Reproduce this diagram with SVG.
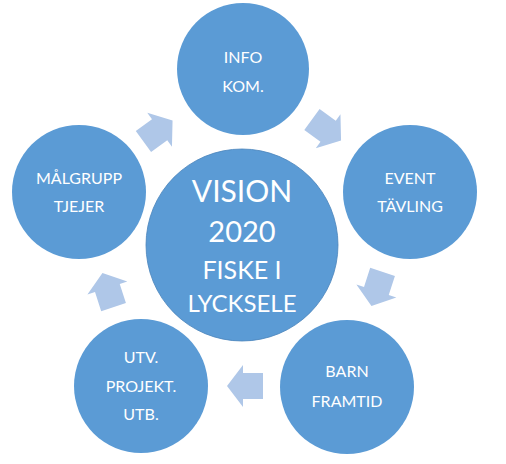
<svg xmlns="http://www.w3.org/2000/svg" width="506" height="464" viewBox="0 0 506 464">
<style>
.node{fill:#5B9BD5;}
.hub{fill:#5B9BD5;stroke:#4A84BB;stroke-width:0.8;}
.arr{fill:#AFC7E8;}
text{font-family:Lato,"Open Sans","Liberation Sans",sans-serif;fill:#FFFFFF;text-anchor:middle;}
.s{font-size:16px;}
</style>
<defs>
<polygon id="arrow" points="-18,-13 2,-13 2,-21 18,0 2,21 2,13 -18,13"/>
</defs>
<rect width="506" height="464" fill="#FFFFFF"/>
<g id="connectors">
<use href="#arrow" class="arr" transform="translate(326.5,130) rotate(36)"/>
<use href="#arrow" class="arr" transform="translate(377,289) rotate(108)"/>
<use href="#arrow" class="arr" transform="translate(245,386) rotate(180)"/>
<use href="#arrow" class="arr" transform="translate(108,290) rotate(252)"/>
<use href="#arrow" class="arr" transform="translate(158,131) rotate(324)"/>
</g>
<g id="hub">
<circle class="hub" cx="242" cy="245" r="96"/>
<text x="242" y="201.5" font-size="30">VISION</text>
<text x="242" y="241.5" font-size="29">2020</text>
<text x="242" y="278.5" font-size="25">FISKE I</text>
<text x="242" y="311.5" font-size="24">LYCKSELE</text>
</g>
<g id="info">
<circle class="node" cx="243" cy="69" r="66"/>
<text class="s" x="243" y="63">INFO</text>
<text class="s" x="243" y="92">KOM.</text>
</g>
<g id="event">
<circle class="node" cx="410" cy="192" r="67"/>
<text class="s" x="410" y="183.5">EVENT</text>
<text class="s" x="410" y="212">TÄVLING</text>
</g>
<g id="barn">
<circle class="node" cx="347" cy="387" r="67"/>
<text class="s" x="347" y="377">BARN</text>
<text class="s" x="347" y="406.5">FRAMTID</text>
</g>
<g id="utv">
<circle class="node" cx="141" cy="386" r="67"/>
<text class="s" x="141" y="362.5">UTV.</text>
<text class="s" x="141" y="391.5">PROJEKT.</text>
<text class="s" x="141" y="420">UTB.</text>
</g>
<g id="malgrupp">
<circle class="node" cx="79" cy="192" r="67"/>
<text class="s" x="79" y="183.5">MÅLGRUPP</text>
<text class="s" x="79" y="212">TJEJER</text>
</g>
</svg>
